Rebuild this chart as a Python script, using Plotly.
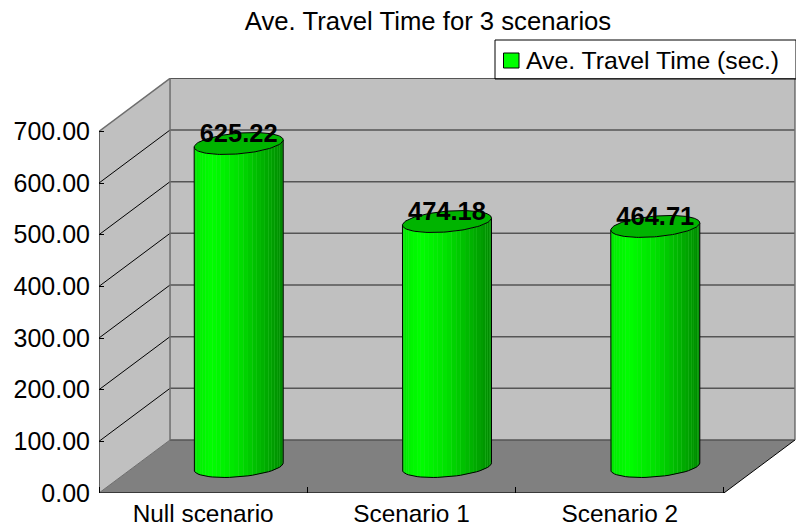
import numpy as np
import plotly.graph_objects as go

# Chart content
scenarios = ["Null scenario", "Scenario 1", "Scenario 2"]
travel_time = [625.22, 474.18, 464.71]
value_ticks = [0, 100, 200, 300, 400, 500, 600, 700]
series_name = "Ave. Travel Time (sec.)"
chart_title = "Ave. Travel Time for 3 scenarios"

# Oblique projection: how far the back wall sits from the front plane, in axis units
DEPTH_X = 0.341
DEPTH_Y = 102.6
X_MIN, X_MAX = -0.5, 2.846
Y_MAX = 803.3
X_END = 2.5
TOP_VALUE = value_ticks[-1]

# Cylinder cross-section in axis units
RADIUS_X = 0.2017
DEPTH_RATIO = 0.207
SKEW_X = DEPTH_X * DEPTH_RATIO
SKEW_Y = DEPTH_Y * DEPTH_RATIO
STRIPES = 30

FONT = "Liberation Sans"
FONT_SIZE = 25
WALL = "#c0c0c0"
FLOOR = "#808080"
EDGE = "#6e6e6e"
GRID = "#555555"
CAP = "#00b400"

# Shading across the cylinder, left to right
SHADE_POS = [0.0, 0.05, 0.2, 0.5, 0.7, 0.85, 1.0]
SHADE_G = [225, 240, 255, 225, 190, 165, 135]

fig = go.Figure()


def polygon(xs, ys, fill):
    fig.add_trace(go.Scatter(x=xs, y=ys, mode="lines", fill="toself", fillcolor=fill,
                             line=dict(width=0), hoverinfo="skip", showlegend=False))


def segment(xs, ys, color, width=1):
    fig.add_trace(go.Scatter(x=xs, y=ys, mode="lines", line=dict(color=color, width=width),
                             hoverinfo="skip", showlegend=False, cliponaxis=False))


# Walls and floor
back_x = X_MIN + DEPTH_X
back_r = X_END + DEPTH_X
polygon([back_x, back_r, back_r, back_x], [DEPTH_Y, DEPTH_Y, TOP_VALUE + DEPTH_Y, TOP_VALUE + DEPTH_Y], WALL)
polygon([X_MIN, back_x, back_x, X_MIN], [0, DEPTH_Y, TOP_VALUE + DEPTH_Y, TOP_VALUE], WALL)
polygon([X_MIN, back_x, back_r, X_END], [0, DEPTH_Y, DEPTH_Y, 0], FLOOR)

# Gridlines on the back wall and their continuation on the side wall
for v in value_ticks:
    top_edge = v == TOP_VALUE
    segment([back_x, back_r], [v + DEPTH_Y, v + DEPTH_Y], GRID, 1.5)
    if v > 0 and not top_edge:
        segment([X_MIN, back_x], [v, v + DEPTH_Y], "#000000", 1)

# Wall edges
segment([back_x, back_x], [DEPTH_Y, TOP_VALUE + DEPTH_Y], EDGE, 1.5)
segment([back_r, back_r], [DEPTH_Y, TOP_VALUE + DEPTH_Y], EDGE, 1.5)
segment([X_MIN, back_x], [TOP_VALUE, TOP_VALUE + DEPTH_Y], EDGE, 1.5)
segment([X_MIN, back_x], [0, DEPTH_Y], EDGE, 1)

# Axis lines
segment([X_MIN, X_MIN], [0, TOP_VALUE], "#000000", 1)
segment([X_MIN, X_END], [0, 0], "#222222", 1.5)
segment([X_END, back_r], [0, DEPTH_Y], "#000000", 1)


def ring(cx, cy, angles):
    return (cx + RADIUS_X * np.cos(angles) + SKEW_X * np.sin(angles),
            cy + SKEW_Y * np.sin(angles))


# Cylinders, built from their values
tilt = np.arctan2(SKEW_X, RADIUS_X)
for i, value in enumerate(travel_time):
    cx = i + DEPTH_X / 2
    base = DEPTH_Y / 2
    top = base + value

    edges = np.linspace(tilt + np.pi, tilt + 2 * np.pi, STRIPES + 1)
    span = np.hypot(RADIUS_X, SKEW_X)

    # Pale underlay: it shows faintly through the seams between stripes
    bx, by = ring(cx, base, edges)
    tx, ty = ring(cx, top, edges)
    polygon(list(tx) + list(bx[::-1]), list(ty) + list(by[::-1]), "#50e050")

    for a0, a1 in zip(edges[:-1], edges[1:]):
        pair = np.array([a0, a1])
        sx_t, sy_t = ring(cx, top, pair)
        sx_b, sy_b = ring(cx, base, pair)
        pos = ((sx_t.mean() - cx) / span + 1) / 2
        g = int(np.interp(pos, SHADE_POS, SHADE_G))
        polygon(list(sx_t) + list(sx_b[::-1]), list(sy_t) + list(sy_b[::-1]), f"rgb(0,{g},0)")

    # Outline of the body and the top cap
    segment(list(tx[:1]) + list(bx) + list(tx[-1:]), list(ty[:1]) + list(by) + list(ty[-1:]), "#000000", 1)
    cap_angles = np.linspace(0, 2 * np.pi, 121)
    qx, qy = ring(cx, top, cap_angles)
    fig.add_trace(go.Scatter(x=qx, y=qy, mode="lines", fill="toself", fillcolor=CAP,
                             line=dict(color="#000000", width=1), hoverinfo="skip", showlegend=False))

# Value labels
fig.add_trace(go.Scatter(
    x=[i + DEPTH_X / 2 for i in range(len(travel_time))],
    y=[v + DEPTH_Y / 2 + 16 for v in travel_time],
    mode="text",
    text=[f"{v:.2f}" for v in travel_time],
    textposition="middle center",
    textfont=dict(family=FONT, size=25.5, color="#000000", weight="bold"),
    hoverinfo="skip", showlegend=False, cliponaxis=False,
))

# Legend entry; its swatch and frame are drawn as shapes so they can sit tight to the text
fig.add_trace(go.Scatter(x=[None], y=[None], mode="markers", name=series_name,
                         marker=dict(symbol="square", size=15, color="rgba(0,0,0,0)",
                                     line=dict(width=0))))


def px_x(p):
    return p / 796


def px_y(p):
    return (493 - p) / 415


fig.update_layout(
    width=796, height=529,
    margin=dict(l=0, r=0, t=78, b=36),
    paper_bgcolor="#ffffff",
    plot_bgcolor="#ffffff",
    font=dict(family=FONT, size=FONT_SIZE, color="#000000"),
    title=dict(text=chart_title, x=428 / 796, xanchor="center", xref="paper",
               y=1 - 21 / 529, yanchor="middle", font=dict(family=FONT, size=25.7)),
    legend=dict(x=px_x(486), y=px_y(36.5), xanchor="left", yanchor="top",
                bgcolor="rgba(0,0,0,0)", borderwidth=0,
                font=dict(family=FONT, size=24.8), itemsizing="trace"),
    xaxis=dict(domain=[99 / 796, 1], range=[X_MIN, X_MAX], showgrid=False, zeroline=False, showline=False,
               tickmode="array", tickvals=list(range(len(scenarios))), ticktext=scenarios,
               ticks="", ticklabelstandoff=4, tickfont=dict(family=FONT, size=24.4),
               minor=dict(tickmode="array", tickvals=[-0.5, 0.5, 1.5, 2.5], ticks="inside",
                          ticklen=6, tickcolor="#000000", tickwidth=1, showgrid=False)),
    yaxis=dict(range=[0, Y_MAX], showgrid=False, zeroline=False, showline=False,
               tickmode="array", tickvals=value_ticks, tickformat=".2f",
               ticks="inside", ticklen=5, tickcolor="#000000", tickwidth=1,
               ticklabelstandoff=8),
    shapes=[
        dict(type="rect", xref="paper", yref="paper", layer="above",
             x0=px_x(495), x1=px_x(796), y0=px_y(79), y1=px_y(40),
             fillcolor="rgba(255,255,255,0)", line=dict(color="#000000", width=1)),
        dict(type="rect", xref="paper", yref="paper", layer="above",
             x0=px_x(503.5), x1=px_x(519), y0=px_y(68), y1=px_y(53),
             fillcolor="#00ff00", line=dict(color="#000000", width=1)),
    ],
    hovermode=False,
)

fig.write_html("out.html", config=dict(displayModeBar=False))
